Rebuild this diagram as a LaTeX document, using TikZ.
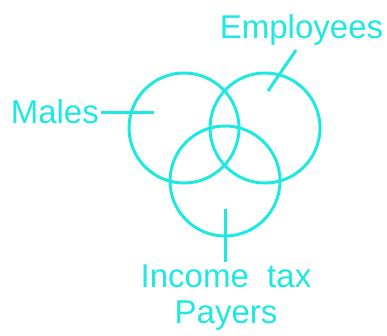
\documentclass[tikz,border=0pt]{standalone}
\usepackage{fontspec}
\setmainfont{Liberation Sans}
\usepackage{tikz}
\definecolor{venncyan}{RGB}{30,232,224}

\begin{document}
\begin{tikzpicture}[x=1pt,y=-1pt,
  ring/.style={circle, draw=venncyan, line width=3pt, minimum size=110pt, inner sep=0pt},
  lbl/.style={text=venncyan, font=\fontsize{33}{36}\selectfont, inner sep=2pt},
  tick/.style={draw=venncyan, line width=3pt}]
\useasboundingbox (0,0) rectangle (387,335);
% the circles
  \node[ring] (males circ) at (184,128) {};
  \node[ring] (emp circ) at (265,128) {};
  \node[ring] (tax circ) at (225,181) {};
% labels
  \node[lbl, anchor=east] (males) at (101,112) {Males};
  \node[lbl, anchor=base] (emp) at (301.5,38) {Employees};
  \node[lbl, anchor=north, align=center, inner sep=3pt] (tax) at (226,262) {Income~ tax\\Payers};
% pointers
  \coordinate (males in) at (154,112);
  \coordinate (emp in) at (268,91);
  \coordinate (tax in) at (225,209);
  \draw[tick] (males) -- (males in);
  \draw[tick] ([shift={(-5.5,3)}]emp.south) -- (emp in);
  \draw[tick] (tax in) -- (tax in |- tax.north);
\end{tikzpicture}
\end{document}
